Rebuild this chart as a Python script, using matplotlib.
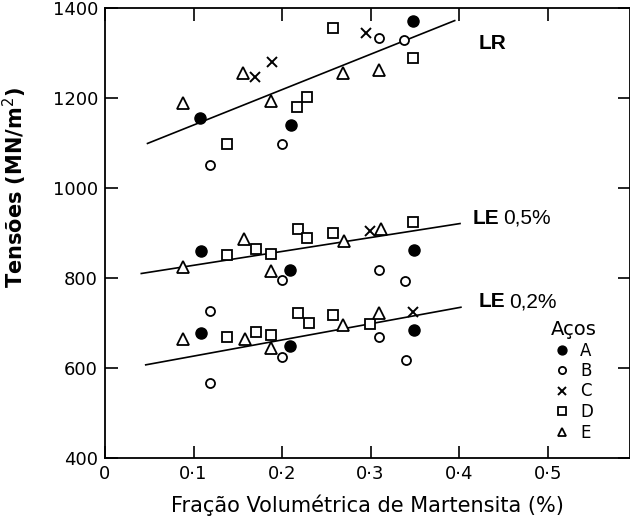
import matplotlib.pyplot as plt
from matplotlib.lines import Line2D

# ---- dados ----
# Limite de resistencia (LR)
lr_A_x = [0.107, 0.210, 0.348]
lr_A_y = [1155, 1139, 1372]
lr_B_x = [0.119, 0.200, 0.310, 0.338]
lr_B_y = [1051, 1098, 1333, 1329]
lr_C_x = [0.169, 0.189, 0.295]
lr_C_y = [1246, 1279, 1345]
lr_D_x = [0.138, 0.217, 0.228, 0.257, 0.348]
lr_D_y = [1098, 1179, 1203, 1355, 1288]
lr_E_x = [0.0885, 0.156, 0.188, 0.269, 0.309]
lr_E_y = [1190, 1256, 1194, 1255, 1262]

# Limite de escoamento 0,5%
le5_A_x = [0.108, 0.209, 0.349]
le5_A_y = [861, 818, 862]
le5_B_x = [0.200, 0.309, 0.339]
le5_B_y = [796, 818, 793]
le5_C_x = [0.299]
le5_C_y = [905]
le5_D_x = [0.138, 0.170, 0.188, 0.218, 0.228, 0.258, 0.348]
le5_D_y = [851, 864, 853, 910, 888, 899, 925]
le5_E_x = [0.0877, 0.157, 0.188, 0.270, 0.312]
le5_E_y = [824, 886, 816, 882, 910]

# Limite de escoamento 0,2%
le2_A_x = [0.108, 0.209, 0.349]
le2_A_y = [677, 650, 684]
le2_B_x = [0.119, 0.119, 0.200, 0.309, 0.340]
le2_B_y = [727, 567, 625, 670, 618]
le2_C_x = [0.348]
le2_C_y = [725]
le2_D_x = [0.138, 0.171, 0.188, 0.218, 0.230, 0.257, 0.299]
le2_D_y = [670, 679, 673, 723, 699, 718, 697]
le2_E_x = [0.0885, 0.158, 0.188, 0.269, 0.310]
le2_E_y = [664, 664, 644, 696, 722]

# retas de ajuste (extremos)
lr_reta_x = [0.048, 0.395]
lr_reta_y = [1099, 1372]
le5_reta_x = [0.041, 0.401]
le5_reta_y = [810, 921]
le2_reta_x = [0.046, 0.402]
le2_reta_y = [607, 735]

x_ticks = [0, 0.1, 0.2, 0.3, 0.4, 0.5]
x_tick_labels = ['0', '0·1', '0·2', '0·3', '0·4', '0·5']
y_ticks = [400, 600, 800, 1000, 1200, 1400]

# estilos dos acos
estilos = {
  'A': dict(marker='o', markersize=8, markerfacecolor='black', markeredgecolor='black'),
  'B': dict(marker='o', markersize=6.5, markerfacecolor='white', markeredgecolor='black', markeredgewidth=1.3),
  'C': dict(marker='x', markersize=6.5, markeredgecolor='black', markeredgewidth=1.4),
  'D': dict(marker='s', markersize=6.5, markerfacecolor='white', markeredgecolor='black', markeredgewidth=1.3),
  'E': dict(marker='^', markersize=8, markerfacecolor='white', markeredgecolor='black', markeredgewidth=1.3),
}

def main():
  fig = plt.figure(figsize=(6.3, 5.23), dpi=100)
  ax = fig.add_axes([105/630, 65/523, 525/630, 450/523])

  grupos = [
    (lr_A_x, lr_A_y, lr_B_x, lr_B_y, lr_C_x, lr_C_y, lr_D_x, lr_D_y, lr_E_x, lr_E_y),
    (le5_A_x, le5_A_y, le5_B_x, le5_B_y, le5_C_x, le5_C_y, le5_D_x, le5_D_y, le5_E_x, le5_E_y),
    (le2_A_x, le2_A_y, le2_B_x, le2_B_y, le2_C_x, le2_C_y, le2_D_x, le2_D_y, le2_E_x, le2_E_y),
  ]
  for g in grupos:
    for k, aco in enumerate('ABCDE'):
      ax.plot(g[2*k], g[2*k+1], linestyle='none', zorder=3, **estilos[aco])

  # retas
  for rx, ry in [(lr_reta_x, lr_reta_y), (le5_reta_x, le5_reta_y), (le2_reta_x, le2_reta_y)]:
    ax.plot(rx, ry, color='black', linewidth=1.2, zorder=2)

  # rotulos das curvas
  ax.text(0.422, 1322, 'LR', fontsize=15, fontweight='bold', family='Liberation Sans', va='center')
  ax.text(0.415, 933, 'LE', fontsize=15, fontweight='bold', family='Liberation Sans', va='center')
  ax.text(0.450, 933, '0,5%', fontsize=15, family='Liberation Sans', va='center')
  ax.text(0.422, 747, 'LE', fontsize=15, fontweight='bold', family='Liberation Sans', va='center')
  ax.text(0.457, 747, '0,2%', fontsize=15, family='Liberation Sans', va='center')

  ax.set_xlim(0, 0.593)
  ax.set_ylim(400, 1400)
  ax.set_xticks(x_ticks)
  ax.set_xticklabels(x_tick_labels)
  ax.set_yticks(y_ticks)
  ax.tick_params(direction='in', length=9, width=1.2, labelsize=13,
                 top=True, right=True, pad=5)
  for s in ax.spines.values():
    s.set_linewidth(1.3)

  ax.set_xlabel('Fração Volumétrica de Martensita (%)', fontsize=15, labelpad=8)
  ax.set_ylabel('Tensões (MN/m$^2$)', fontsize=15, fontweight='bold')
  ax.yaxis.set_label_coords(-0.145, 0.60)

  # legenda
  handles = [Line2D([], [], linestyle='none', **estilos[a]) for a in 'ABCDE']
  ax.legend(handles, list('ABCDE'), title='Aços', loc='upper center',
            bbox_to_anchor=(574/630, (523-320)/523), bbox_transform=fig.transFigure,
            frameon=False, fontsize=12, title_fontsize=14, labelspacing=0.15,
            markerscale=0.8, handlelength=0.8, handletextpad=0.7,
            borderpad=0, borderaxespad=0)

  fig.savefig('out.png', dpi=100)

if __name__ == "__main__":
  main()
